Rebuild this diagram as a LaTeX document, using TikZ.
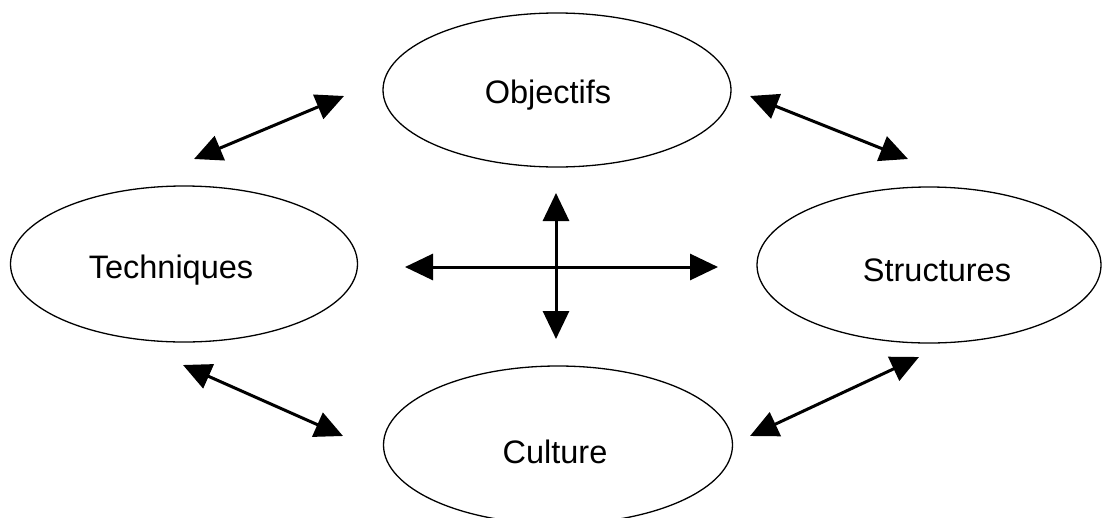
\documentclass[tikz,border=0pt]{standalone}
\usepackage{fontspec}
\setmainfont{Liberation Sans}
\usetikzlibrary{shapes.geometric,arrows.meta}
\begin{document}
\begin{tikzpicture}[x=1pt,y=-1pt,
  field/.style={ellipse,draw,line width=1.3pt,inner sep=0pt},
  fieldtext/.style={font=\fontsize{32.5}{36}\selectfont,inner sep=0pt,
    text height=23.3pt,text depth=0pt},
  link/.style={line width=3pt,{Triangle[length=28pt,width=26pt]}-{Triangle[length=28pt,width=26pt]}}]
\useasboundingbox (0,0) rectangle (1102,517);
\clip (0,0) rectangle (1102,517);

% the four fields, each with its name set slightly off centre
\node[field,minimum width=348pt,minimum height=154pt,
  label={[fieldtext,xshift=-9pt,yshift=-2pt]center:Objectifs}] (obj) at (557,90) {};
\node[field,minimum width=347pt,minimum height=156pt,
  label={[fieldtext,xshift=-13pt,yshift=-3pt]center:Techniques}] (tech) at (184,264) {};
\node[field,minimum width=344pt,minimum height=156pt,
  label={[fieldtext,xshift=8pt,yshift=-5pt]center:Structures}] (struc) at (929,265) {};
\node[field,minimum width=349pt,minimum height=158pt,
  label={[fieldtext,xshift=-3pt,yshift=-7pt]center:Culture}] (cult) at (558,445) {};

% free ends of the connectors
\coordinate (tlA) at (194,159);
\coordinate (tlB) at (344,96);
\coordinate (trA) at (750,96);
\coordinate (trB) at (908,159);
\coordinate (blA) at (183,365);
\coordinate (blB) at (343,436);
\coordinate (brA) at (919,357);
\coordinate (brB) at (750,436);
\coordinate (hL) at (405,267);
\coordinate (hR) at (718,267);
\coordinate (vT) at (556,193);
\coordinate (vB) at (556,339);

% connectors
\draw[link] (tlA) -- (tlB);
\draw[link] (trA) -- (trB);
\draw[link] (blA) -- (blB);
\draw[link] (brA) -- (brB);
\draw[link] (hL) -- (hR);
\draw[link] (vT) -- (vB);
\end{tikzpicture}
\end{document}
